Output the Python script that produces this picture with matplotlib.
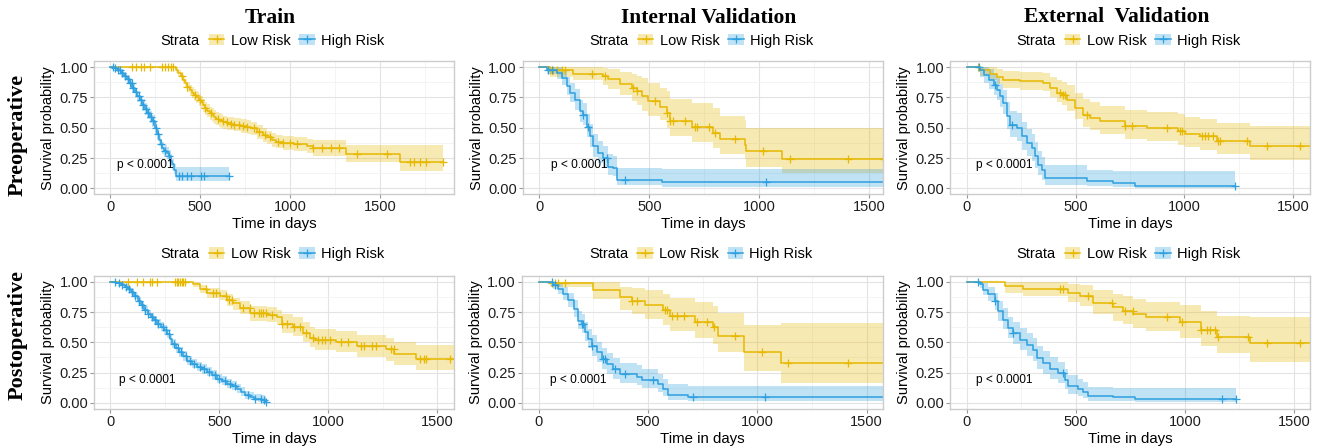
import numpy as np
import matplotlib
matplotlib.use("Agg")
import matplotlib.pyplot as plt
from matplotlib.patches import Patch
from matplotlib.lines import Line2D
from matplotlib.ticker import MultipleLocator, FormatStrFormatter

plt.rcParams["font.family"] = ["Liberation Sans", "DejaVu Sans"]

LOW_COL = "#E7B800"
HIGH_COL = "#2E9FDF"

# ---- Preoperative / Train ----
pre_train_low_t = [0, 365, 380, 393, 405, 418, 430, 442, 455, 467, 480, 492, 504, 516, 528, 541, 555, 568, 578,
                   590, 603, 615, 630, 652, 690, 726, 760, 781, 818, 850, 874, 900, 920, 960, 1022, 1096, 1128,
                   1313, 1609]
pre_train_low_s = [1.0, 0.975, 0.95, 0.925, 0.895, 0.865, 0.835, 0.81, 0.79, 0.77, 0.75, 0.73, 0.71, 0.685, 0.66,
                   0.64, 0.62, 0.605, 0.59, 0.575, 0.565, 0.555, 0.545, 0.535, 0.525, 0.515, 0.505, 0.495, 0.465,
                   0.44, 0.42, 0.40, 0.385, 0.375, 0.365, 0.35, 0.33, 0.285, 0.22]
pre_train_low_lo = [1.0, 0.955, 0.925, 0.895, 0.86, 0.83, 0.795, 0.765, 0.745, 0.72, 0.70, 0.68, 0.655, 0.63,
                    0.605, 0.585, 0.565, 0.55, 0.535, 0.52, 0.51, 0.50, 0.49, 0.48, 0.47, 0.46, 0.45, 0.44, 0.41,
                    0.385, 0.365, 0.345, 0.33, 0.315, 0.305, 0.29, 0.27, 0.215, 0.145]
pre_train_low_hi = [1.0, 0.995, 0.975, 0.955, 0.93, 0.90, 0.875, 0.855, 0.835, 0.82, 0.80, 0.78, 0.765, 0.74,
                    0.715, 0.695, 0.675, 0.66, 0.645, 0.63, 0.62, 0.61, 0.60, 0.59, 0.58, 0.57, 0.56, 0.55, 0.52,
                    0.495, 0.475, 0.455, 0.44, 0.435, 0.425, 0.41, 0.395, 0.36, 0.355]
pre_train_low_cens = [120, 146, 174, 187, 220, 291, 304, 322, 341, 352, 398, 430, 470, 500, 530, 560, 600, 625,
                      650, 670, 690, 715, 740, 760, 800, 830, 860, 890, 935, 960, 1000, 1040, 1130, 1180, 1230,
                      1270, 1370, 1540, 1665, 1690, 1720, 1757, 1850]
pre_train_low_end = 1852

pre_train_high_t = [0, 20, 40, 59, 78, 96, 110, 124, 138, 152, 166, 180, 194, 207, 221, 235, 249, 263, 272, 281,
                    290, 300, 314, 328, 337, 346, 355, 365]
pre_train_high_s = [1.0, 0.99, 0.975, 0.953, 0.925, 0.898, 0.865, 0.83, 0.795, 0.76, 0.725, 0.69, 0.655, 0.624,
                    0.59, 0.555, 0.50, 0.445, 0.40, 0.363, 0.335, 0.308, 0.29, 0.267, 0.23, 0.198, 0.155, 0.105]
pre_train_high_lo = [1.0, 0.98, 0.96, 0.93, 0.90, 0.87, 0.83, 0.79, 0.755, 0.715, 0.68, 0.64, 0.605, 0.575, 0.54,
                     0.505, 0.45, 0.395, 0.35, 0.315, 0.285, 0.26, 0.24, 0.22, 0.185, 0.155, 0.115, 0.06]
pre_train_high_hi = [1.0, 1.0, 0.99, 0.975, 0.95, 0.925, 0.895, 0.865, 0.83, 0.80, 0.765, 0.735, 0.70, 0.67, 0.64,
                     0.605, 0.55, 0.495, 0.45, 0.41, 0.385, 0.355, 0.34, 0.315, 0.28, 0.245, 0.205, 0.175]
pre_train_high_cens = [15, 30, 45, 55, 68, 85, 100, 112, 120, 130, 145, 160, 170, 185, 200, 212, 225, 240, 255,
                       268, 285, 305, 330, 383, 402, 430, 448, 504, 522, 661]
pre_train_high_end = 661

# ---- Preoperative / Internal validation ----
pre_int_low_t = [0, 48, 155, 291, 314, 367, 420, 442, 465, 495, 548, 579, 594, 692, 791, 821, 935, 942, 1102]
pre_int_low_s = [1.0, 0.973, 0.945, 0.923, 0.904, 0.863, 0.827, 0.80, 0.758, 0.717, 0.67, 0.62, 0.552, 0.503,
                 0.456, 0.407, 0.36, 0.305, 0.245]
pre_int_low_lo = [1.0, 0.92, 0.89, 0.85, 0.82, 0.77, 0.72, 0.69, 0.64, 0.60, 0.56, 0.50, 0.43, 0.38, 0.33, 0.28,
                  0.24, 0.18, 0.125]
pre_int_low_hi = [1.0, 1.0, 1.0, 0.99, 0.98, 0.96, 0.94, 0.93, 0.91, 0.87, 0.83, 0.80, 0.74, 0.70, 0.66, 0.60,
                  0.56, 0.50, 0.50]
pre_int_low_cens = [48, 64, 79, 102, 117, 238, 298, 427, 442, 526, 579, 594, 609, 664, 709, 717, 770, 800, 889,
                    1018, 1139, 1405, 1563]
pre_int_low_end = 1563

pre_int_high_t = [0, 33, 79, 102, 124, 139, 162, 185, 200, 215, 230, 245, 268, 291, 314, 336, 352, 556]
pre_int_high_s = [1.0, 0.978, 0.95, 0.91, 0.84, 0.786, 0.73, 0.635, 0.607, 0.51, 0.43, 0.346, 0.29, 0.25, 0.18,
                  0.168, 0.071, 0.049]
pre_int_high_lo = [1.0, 0.94, 0.90, 0.85, 0.77, 0.71, 0.65, 0.55, 0.52, 0.42, 0.34, 0.26, 0.21, 0.17, 0.11, 0.10,
                   0.03, 0.015]
pre_int_high_hi = [1.0, 1.0, 1.0, 0.97, 0.92, 0.87, 0.82, 0.73, 0.70, 0.61, 0.53, 0.45, 0.39, 0.35, 0.28, 0.27,
                   0.17, 0.16]
pre_int_high_cens = [41, 56, 200, 223, 306, 389, 1033]
pre_int_high_end = 1563

# ---- Preoperative / External validation ----
pre_ext_low_t = [0, 61, 107, 138, 168, 245, 352, 383, 413, 436, 459, 498, 536, 567, 613, 727, 827, 972, 1003,
                 1072, 1149, 1302]
pre_ext_low_s = [1.0, 0.973, 0.945, 0.918, 0.896, 0.882, 0.868, 0.827, 0.786, 0.772, 0.731, 0.662, 0.607, 0.58,
                 0.552, 0.516, 0.497, 0.47, 0.45, 0.43, 0.387, 0.346]
pre_ext_low_lo = [1.0, 0.93, 0.89, 0.86, 0.83, 0.81, 0.80, 0.75, 0.71, 0.69, 0.64, 0.57, 0.51, 0.48, 0.45, 0.41,
                  0.39, 0.36, 0.34, 0.32, 0.28, 0.235]
pre_ext_low_hi = [1.0, 1.0, 1.0, 0.98, 0.97, 0.96, 0.95, 0.92, 0.89, 0.88, 0.85, 0.79, 0.74, 0.71, 0.68, 0.65,
                  0.63, 0.61, 0.59, 0.57, 0.54, 0.515]
pre_ext_low_cens = [51, 429, 441, 452, 551, 727, 758, 919, 980, 988, 1080, 1095, 1110, 1133, 1156, 1164, 1286,
                    1378, 1531]
pre_ext_low_end = 1577

pre_ext_high_t = [0, 61, 77, 100, 123, 138, 153, 168, 184, 199, 230, 253, 276, 299, 314, 329, 345, 360, 551, 674,
                  773]
pre_ext_high_s = [1.0, 0.973, 0.937, 0.896, 0.854, 0.813, 0.758, 0.703, 0.593, 0.525, 0.497, 0.43, 0.374, 0.332,
                  0.264, 0.195, 0.148, 0.085, 0.063, 0.044, 0.022]
pre_ext_high_lo = [1.0, 0.92, 0.87, 0.82, 0.77, 0.73, 0.67, 0.61, 0.49, 0.42, 0.39, 0.32, 0.27, 0.23, 0.17, 0.11,
                   0.07, 0.03, 0.02, 0.01, 0.003]
pre_ext_high_hi = [1.0, 1.0, 1.0, 0.98, 0.94, 0.91, 0.86, 0.81, 0.71, 0.64, 0.62, 0.55, 0.49, 0.45, 0.38, 0.31,
                   0.26, 0.19, 0.15, 0.145, 0.14]
pre_ext_high_cens = [54, 130, 207, 1233]
pre_ext_high_end = 1233

# ---- Postoperative / Train ----
post_train_low_t = [0, 381, 411, 442, 503, 534, 564, 595, 641, 717, 763, 786, 839, 884, 914, 937, 1036, 1130,
                    1264, 1303, 1402]
post_train_low_s = [1.0, 0.98, 0.94, 0.904, 0.885, 0.849, 0.821, 0.783, 0.739, 0.728, 0.706, 0.651, 0.629, 0.58,
                    0.54, 0.52, 0.50, 0.468, 0.445, 0.405, 0.365]
post_train_low_lo = [1.0, 0.96, 0.91, 0.87, 0.85, 0.80, 0.77, 0.73, 0.68, 0.67, 0.64, 0.58, 0.55, 0.50, 0.46,
                     0.44, 0.42, 0.38, 0.35, 0.31, 0.275]
post_train_low_hi = [1.0, 1.0, 0.97, 0.95, 0.93, 0.90, 0.87, 0.84, 0.80, 0.79, 0.77, 0.73, 0.71, 0.67, 0.63,
                     0.61, 0.59, 0.56, 0.54, 0.50, 0.48]
post_train_low_cens = [83, 121, 151, 182, 190, 213, 297, 304, 312, 320, 327, 335, 343, 440, 470, 485, 530, 545,
                       560, 610, 640, 660, 680, 690, 700, 715, 740, 790, 810, 845, 870, 900, 930, 955, 970, 985,
                       1010, 1060, 1090, 1150, 1165, 1200, 1220, 1290, 1300, 1420, 1440, 1450, 1560]
post_train_low_end = 1575

post_train_high_t = [0, 25, 49, 65, 79, 95, 110, 125, 140, 155, 171, 186, 201, 216, 232, 247, 262, 274, 285, 300,
                     315, 334, 353, 376, 399, 422, 445, 468, 491, 514, 536, 559, 582, 601, 620, 639, 658, 677, 696,
                     711]
post_train_high_s = [1.0, 0.99, 0.975, 0.96, 0.943, 0.913, 0.882, 0.843, 0.805, 0.77, 0.737, 0.71, 0.682, 0.655,
                     0.627, 0.60, 0.572, 0.53, 0.49, 0.455, 0.42, 0.385, 0.35, 0.323, 0.297, 0.277, 0.256, 0.228,
                     0.20, 0.18, 0.16, 0.14, 0.118, 0.09, 0.063, 0.05, 0.036, 0.03, 0.022, 0.008]
post_train_high_lo = [1.0, 0.985, 0.965, 0.945, 0.925, 0.89, 0.855, 0.815, 0.775, 0.74, 0.705, 0.675, 0.645,
                      0.62, 0.59, 0.56, 0.535, 0.49, 0.45, 0.415, 0.38, 0.345, 0.31, 0.285, 0.26, 0.24, 0.22,
                      0.19, 0.165, 0.145, 0.125, 0.105, 0.085, 0.06, 0.035, 0.025, 0.012, 0.008, 0.004, 0.0]
post_train_high_hi = [1.0, 1.0, 0.99, 0.98, 0.965, 0.94, 0.91, 0.875, 0.84, 0.80, 0.77, 0.745, 0.72, 0.69, 0.665,
                      0.64, 0.61, 0.57, 0.53, 0.495, 0.46, 0.425, 0.39, 0.365, 0.34, 0.32, 0.30, 0.27, 0.24, 0.22,
                      0.20, 0.18, 0.16, 0.13, 0.10, 0.09, 0.075, 0.07, 0.065, 0.06]
post_train_high_cens = [20, 40, 55, 70, 85, 100, 115, 130, 145, 160, 175, 190, 205, 220, 240, 255, 270, 290, 310,
                        325, 345, 365, 385, 410, 430, 455, 480, 500, 525, 550, 570, 630, 665, 690, 705, 715]
post_train_high_end = 715

# ---- Postoperative / Internal validation ----
post_int_low_t = [0, 52, 250, 372, 425, 486, 570, 601, 715, 799, 822, 939, 1107]
post_int_low_s = [1.0, 0.986, 0.93, 0.875, 0.839, 0.806, 0.764, 0.717, 0.667, 0.625, 0.556, 0.417, 0.333]
post_int_low_lo = [1.0, 0.96, 0.86, 0.77, 0.73, 0.69, 0.64, 0.59, 0.54, 0.49, 0.42, 0.26, 0.165]
post_int_low_hi = [1.0, 1.0, 1.0, 0.96, 0.95, 0.93, 0.90, 0.87, 0.83, 0.80, 0.74, 0.64, 0.66]
post_int_low_cens = [59, 75, 90, 120, 425, 448, 578, 585, 608, 631, 662, 723, 768, 802, 898, 1020, 1142, 1416]
post_int_low_end = 1573

post_int_high_t = [0, 37, 67, 90, 113, 136, 159, 181, 197, 212, 227, 242, 265, 288, 311, 341, 372, 448, 471, 547,
                   570, 593, 684]
post_int_high_s = [1.0, 0.994, 0.972, 0.944, 0.903, 0.847, 0.778, 0.68, 0.653, 0.583, 0.528, 0.472, 0.417, 0.361,
                   0.319, 0.278, 0.236, 0.217, 0.189, 0.153, 0.111, 0.069, 0.05]
post_int_high_lo = [1.0, 0.98, 0.94, 0.90, 0.85, 0.79, 0.71, 0.61, 0.58, 0.51, 0.45, 0.39, 0.34, 0.28, 0.24, 0.20,
                    0.165, 0.145, 0.12, 0.09, 0.055, 0.025, 0.014]
post_int_high_hi = [1.0, 1.0, 1.0, 0.99, 0.96, 0.91, 0.85, 0.76, 0.73, 0.67, 0.61, 0.56, 0.50, 0.45, 0.41, 0.37,
                    0.33, 0.31, 0.28, 0.24, 0.20, 0.155, 0.14]
post_int_high_cens = [59, 75, 197, 204, 242, 296, 303, 349, 395, 524, 707, 1035]
post_int_high_end = 1573

# ---- Postoperative / External validation ----
post_ext_low_t = [0, 176, 260, 466, 519, 580, 672, 718, 763, 824, 977, 1076, 1145, 1298]
post_ext_low_s = [1.0, 0.964, 0.942, 0.909, 0.886, 0.826, 0.79, 0.762, 0.734, 0.706, 0.668, 0.60, 0.545, 0.493]
post_ext_low_lo = [1.0, 0.91, 0.88, 0.83, 0.80, 0.73, 0.68, 0.65, 0.62, 0.59, 0.54, 0.47, 0.41, 0.34]
post_ext_low_hi = [1.0, 1.0, 1.0, 0.98, 0.97, 0.93, 0.90, 0.88, 0.86, 0.83, 0.81, 0.76, 0.72, 0.71]
post_ext_low_cens = [427, 440, 557, 664, 725, 760, 916, 985, 1076, 1099, 1115, 1137, 1153, 1290, 1374, 1527]
post_ext_low_end = 1573

post_ext_high_t = [0, 61, 76, 99, 130, 145, 168, 191, 214, 244, 275, 305, 321, 351, 382, 420, 450, 466, 511, 534,
                   557, 672, 771]
post_ext_high_s = [1.0, 0.978, 0.936, 0.895, 0.839, 0.756, 0.687, 0.618, 0.576, 0.521, 0.479, 0.438, 0.368, 0.327,
                   0.28, 0.244, 0.188, 0.141, 0.114, 0.091, 0.058, 0.05, 0.03]
post_ext_high_lo = [1.0, 0.95, 0.89, 0.84, 0.77, 0.68, 0.61, 0.54, 0.49, 0.44, 0.39, 0.35, 0.28, 0.24, 0.20, 0.165,
                    0.115, 0.075, 0.055, 0.04, 0.02, 0.015, 0.005]
post_ext_high_hi = [1.0, 1.0, 0.99, 0.96, 0.91, 0.84, 0.78, 0.71, 0.67, 0.62, 0.58, 0.54, 0.47, 0.43, 0.38, 0.34,
                    0.28, 0.23, 0.20, 0.17, 0.13, 0.12, 0.12]
post_ext_high_cens = [50, 130, 214, 443, 1168, 1234]
post_ext_high_end = 1234

COL_TITLES = ["Train", "Internal Validation", "External  Validation"]
ROW_TITLES = ["Preoperative", "Postoperative"]
STRATA = ["Low Risk", "High Risk"]

W, H = 1320, 448
fig = plt.figure(figsize=(W / 100, H / 100), dpi=100)


def px_axes(x0, y0, x1, y1):
    return fig.add_axes([x0 / W, 1 - y1 / H, (x1 - x0) / W, (y1 - y0) / H])


def km(ax, t, s, lo, hi, t_end, cens, col):
    tt = np.append(t, t_end)
    ss = np.append(s, s[-1])
    ax.fill_between(tt, np.append(lo, lo[-1]), np.append(hi, hi[-1]), step="post",
                    color=col, alpha=0.3, lw=0)
    ax.step(tt, ss, where="post", color=col, lw=1.1)
    idx = np.searchsorted(t, cens, side="right") - 1
    ax.plot(cens, np.asarray(s)[idx], ls="none", marker="+", ms=5.5, mew=0.9, color=col)


curves = [
    ((pre_train_low_t, pre_train_low_s, pre_train_low_lo, pre_train_low_hi, pre_train_low_end, pre_train_low_cens),
     (pre_train_high_t, pre_train_high_s, pre_train_high_lo, pre_train_high_hi, pre_train_high_end,
      pre_train_high_cens)),
    ((pre_int_low_t, pre_int_low_s, pre_int_low_lo, pre_int_low_hi, pre_int_low_end, pre_int_low_cens),
     (pre_int_high_t, pre_int_high_s, pre_int_high_lo, pre_int_high_hi, pre_int_high_end, pre_int_high_cens)),
    ((pre_ext_low_t, pre_ext_low_s, pre_ext_low_lo, pre_ext_low_hi, pre_ext_low_end, pre_ext_low_cens),
     (pre_ext_high_t, pre_ext_high_s, pre_ext_high_lo, pre_ext_high_hi, pre_ext_high_end, pre_ext_high_cens)),
    ((post_train_low_t, post_train_low_s, post_train_low_lo, post_train_low_hi, post_train_low_end,
      post_train_low_cens),
     (post_train_high_t, post_train_high_s, post_train_high_lo, post_train_high_hi, post_train_high_end,
      post_train_high_cens)),
    ((post_int_low_t, post_int_low_s, post_int_low_lo, post_int_low_hi, post_int_low_end, post_int_low_cens),
     (post_int_high_t, post_int_high_s, post_int_high_lo, post_int_high_hi, post_int_high_end,
      post_int_high_cens)),
    ((post_ext_low_t, post_ext_low_s, post_ext_low_lo, post_ext_low_hi, post_ext_low_end, post_ext_low_cens),
     (post_ext_high_t, post_ext_high_s, post_ext_high_lo, post_ext_high_hi, post_ext_high_end,
      post_ext_high_cens)),
]

# panel boxes in pixels (x0, y0, x1, y1), x limits, p-value x position
boxes = [(94, 61, 454, 194.5), (522.7, 61, 883, 194.5), (950, 61, 1310, 194.5),
         (94, 275.7, 454, 409), (521.7, 275.7, 882.7, 409), (950, 275.7, 1310, 409)]
xlims = [(-89, 1911), (-76, 1563), (-77, 1577), (-75, 1577), (-78, 1573), (-76, 1573)]
pval_x = [39, 52, 43, 40, 52, 43]
legend_y = [40.7, 40.7, 40.7, 254, 254, 254]

for i, (box, (low, high)) in enumerate(zip(boxes, curves)):
    ax = px_axes(*box)
    km(ax, low[0], low[1], low[2], low[3], low[4], low[5], LOW_COL)
    km(ax, high[0], high[1], high[2], high[3], high[4], high[5], HIGH_COL)
    ax.set_xlim(*xlims[i])
    ax.set_ylim(-0.05, 1.05)
    ax.xaxis.set_major_locator(MultipleLocator(500))
    ax.xaxis.set_minor_locator(MultipleLocator(250))
    ax.yaxis.set_major_locator(MultipleLocator(0.25))
    ax.yaxis.set_minor_locator(MultipleLocator(0.125))
    ax.yaxis.set_major_formatter(FormatStrFormatter("%.2f"))
    ax.set_axisbelow(True)
    ax.grid(which="major", color="#e3e3e3", lw=0.8)
    ax.grid(which="minor", color="#f0f0f0", lw=0.5)
    ax.tick_params(which="minor", length=0)
    ax.tick_params(which="major", length=2.8, width=0.8, color="#999999", labelsize=10.5,
                   labelcolor="#1e1e1e", pad=1.5)
    for sp in ax.spines.values():
        sp.set_color("#cccccc")
        sp.set_linewidth(1.0)
    ax.set_xlabel("Time in days", fontsize=10.8, labelpad=2)
    ax.set_ylabel("Survival probability", fontsize=10.5, labelpad=3)
    ax.text(pval_x[i], 0.19, "p < 0.0001", fontsize=8.6, ha="left", va="center")

    cx = (box[0] + box[2]) / 2
    ly = legend_y[i]
    fig.text((cx - 113.3) / W, 1 - ly / H, "Strata", fontsize=10.5, ha="left", va="center")
    handles = [(Patch(facecolor=LOW_COL, alpha=0.3, lw=0),
                Line2D([], [], color=LOW_COL, lw=1.1, marker="+", ms=6, mew=0.9)),
               (Patch(facecolor=HIGH_COL, alpha=0.3, lw=0),
                Line2D([], [], color=HIGH_COL, lw=1.1, marker="+", ms=6, mew=0.9))]
    ax.legend(handles, STRATA, loc="center left", bbox_to_anchor=((cx - 65) / W, 1 - ly / H),
              bbox_transform=fig.transFigure, ncol=2, frameon=False, fontsize=10.5, borderpad=0,
              borderaxespad=0, handlelength=1.05, handleheight=0.85, handletextpad=0.45,
              columnspacing=0.6)

title_pos = [(270, 18.3), (709, 18.3), (1117, 17)]
for (x, y), title in zip(title_pos, COL_TITLES):
    fig.text(x / W, 1 - y / H, title, family="Liberation Serif", weight="bold", fontsize=15.5,
             ha="center", va="center")
for y, title in zip([135, 335], ROW_TITLES):
    fig.text(18 / W, 1 - y / H, title, family="Liberation Serif", weight="bold", fontsize=16,
             rotation=90, ha="center", va="center")

fig.savefig("out.png", dpi=100)
